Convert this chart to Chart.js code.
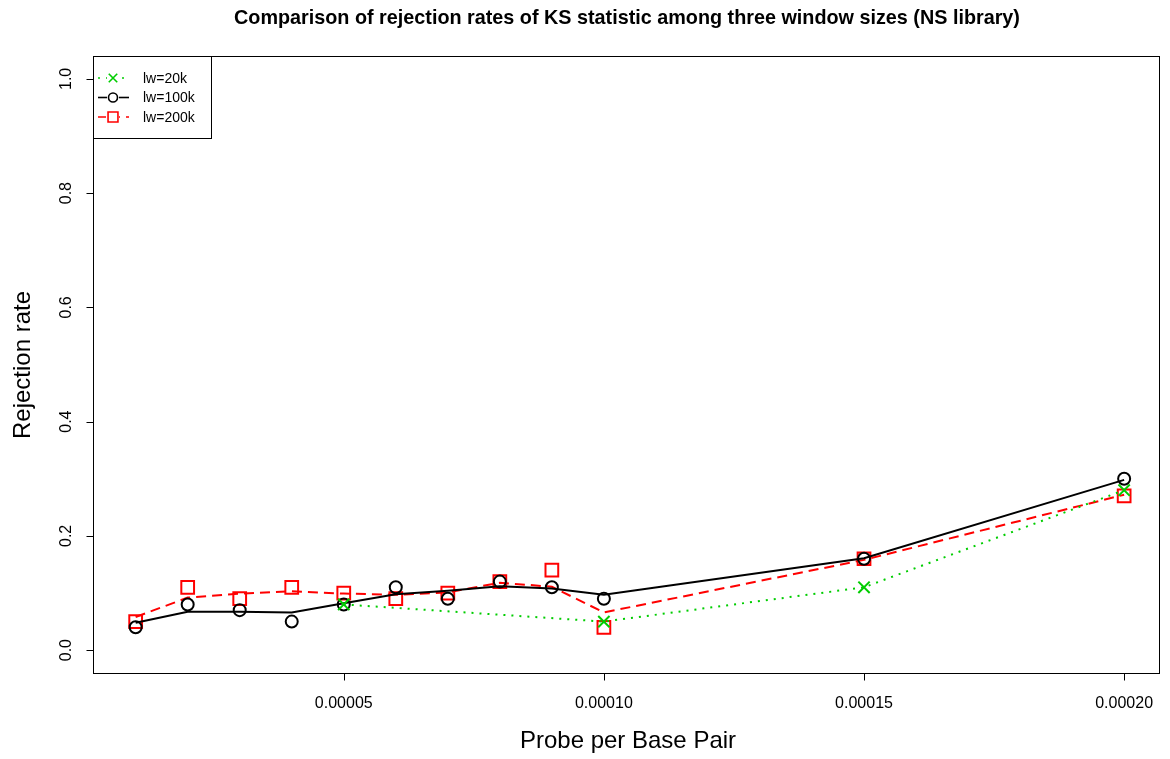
<!DOCTYPE html>
<html>
<head>
<meta charset="utf-8">
<script src="https://cdn.jsdelivr.net/npm/chart.js@4/dist/chart.umd.min.js"></script>
<style>
  body { margin: 0; background: #fff; overflow: hidden; }
  canvas { display: block; }
</style>
</head>
<body>
<canvas id="rejChart" width="1170" height="759"></canvas>
<script>
// probe density (per base pair) and rejection rates per window size
var probes = [0.00001, 0.00002, 0.00003, 0.00004, 0.00005, 0.00006, 0.00007, 0.00008, 0.00009, 0.0001, 0.00015, 0.0002];
var rate100k = [0.04, 0.08, 0.07, 0.05, 0.08, 0.11, 0.09, 0.12, 0.11, 0.09, 0.16, 0.30];
var smooth100k = [0.048, 0.067, 0.067, 0.066, 0.082, 0.098, 0.104, 0.112, 0.108, 0.097, 0.161, 0.298];
var rate200k = [0.05, 0.11, 0.09, 0.11, 0.10, 0.09, 0.10, 0.12, 0.14, 0.04, 0.16, 0.27];
var smooth200k = [0.058, 0.092, 0.099, 0.103, 0.099, 0.097, 0.101, 0.118, 0.111, 0.066, 0.158, 0.272];
var probes20k = [0.00005, 0.0001, 0.00015, 0.0002];
var rate20k = [0.08, 0.05, 0.11, 0.28];

var xTicks = [0.00005, 0.0001, 0.00015, 0.0002];
var yTicks = [0, 0.2, 0.4, 0.6, 0.8, 1.0];

var GREEN = "#00cd00";
var RED = "#ff0000";
var FONT = "'Liberation Sans', Arial, sans-serif";

function pts(xs, ys) {
    return xs.map(function (x, i) { return { x: x, y: ys[i] }; });
}

var legendItems = [
    { text: "lw=20k", color: GREEN, dash: [2, 6], style: "crossRot", r: 6 },
    { text: "lw=100k", color: "#000", dash: [], style: "circle", r: 4.5 },
    { text: "lw=200k", color: RED, dash: [8, 6], style: "rect", r: 7 }
];

// R-style frame, axes, labels and legend
var frame = {
    id: "frame",
    afterDraw: function (chart) {
        var ctx = chart.ctx, a = chart.chartArea;
        var xs = chart.scales.x, ys = chart.scales.y;
        ctx.save();
        ctx.strokeStyle = "#000";
        ctx.fillStyle = "#000";
        ctx.lineWidth = 1;
        ctx.strokeRect(Math.round(a.left) + 0.5, Math.round(a.top) + 0.5,
            Math.round(a.right - a.left), Math.round(a.bottom - a.top));

        // x axis
        var yb = Math.round(a.bottom) + 0.5;
        ctx.beginPath();
        ctx.moveTo(xs.getPixelForValue(xTicks[0]), yb);
        ctx.lineTo(xs.getPixelForValue(xTicks[xTicks.length - 1]), yb);
        xTicks.forEach(function (t) {
            var px = Math.round(xs.getPixelForValue(t)) + 0.5;
            ctx.moveTo(px, yb);
            ctx.lineTo(px, yb + 7);
        });
        ctx.stroke();
        ctx.font = "16px " + FONT;
        ctx.textAlign = "center";
        ctx.textBaseline = "middle";
        xTicks.forEach(function (t) {
            ctx.fillText(t.toFixed(5), xs.getPixelForValue(t), 704);
        });

        // y axis
        var xl = Math.round(a.left) + 0.5;
        ctx.beginPath();
        ctx.moveTo(xl, ys.getPixelForValue(yTicks[0]));
        ctx.lineTo(xl, ys.getPixelForValue(yTicks[yTicks.length - 1]));
        yTicks.forEach(function (t) {
            var py = Math.round(ys.getPixelForValue(t)) + 0.5;
            ctx.moveTo(xl, py);
            ctx.lineTo(xl - 7, py);
        });
        ctx.stroke();
        yTicks.forEach(function (t) {
            ctx.save();
            ctx.translate(67, ys.getPixelForValue(t));
            ctx.rotate(-Math.PI / 2);
            ctx.fillText(t.toFixed(1), 0, 0);
            ctx.restore();
        });

        // titles
        ctx.font = "bold 19.8px " + FONT;
        ctx.fillText("Comparison of rejection rates of KS statistic among three window sizes (NS library)", 627, 19);
        ctx.font = "24px " + FONT;
        ctx.fillText("Probe per Base Pair", 628, 741);
        ctx.save();
        ctx.translate(23, 365);
        ctx.rotate(-Math.PI / 2);
        ctx.fillText("Rejection rate", 0, 0);
        ctx.restore();

        // legend
        ctx.fillStyle = "#fff";
        ctx.fillRect(xl, Math.round(a.top) + 0.5, 118, 82);
        ctx.strokeRect(xl, Math.round(a.top) + 0.5, 118, 82);
        ctx.font = "14px " + FONT;
        ctx.textAlign = "left";
        legendItems.forEach(function (it, i) {
            var ly = 78 + i * 19.5;
            ctx.strokeStyle = it.color;
            ctx.lineWidth = 1.6;
            ctx.setLineDash(it.dash);
            ctx.beginPath();
            ctx.moveTo(98, ly);
            ctx.lineTo(129, ly);
            ctx.stroke();
            ctx.setLineDash([]);
            ctx.fillStyle = "#fff";
            ctx.fillRect(107, ly - 6, 12, 12);
            ctx.fillStyle = "rgba(0,0,0,0)";
            Chart.helpers.drawPoint(ctx, { pointStyle: it.style, radius: it.r, rotation: 0, borderWidth: 1.8 }, 113, ly);
            ctx.fillStyle = "#000";
            ctx.fillText(it.text, 143, ly + 1);
        });
        ctx.restore();
    }
};

new Chart("rejChart", {
    type: "scatter",
    data: {
        datasets: [{
            label: "lw=20k",
            data: pts(probes20k, rate20k),
            showLine: true,
            borderColor: GREEN,
            borderWidth: 2,
            borderDash: [2, 6],
            pointStyle: "crossRot",
            pointRadius: 8,
            pointBorderWidth: 2,
            pointBorderColor: GREEN,
            pointBackgroundColor: "rgba(0,0,0,0)"
        }, {
            label: "lw=100k",
            data: pts(probes, smooth100k),
            showLine: true,
            borderColor: "#000",
            borderWidth: 2,
            pointRadius: 0
        }, {
            label: "lw=100k points",
            data: pts(probes, rate100k),
            showLine: false,
            pointStyle: "circle",
            pointRadius: 6,
            pointBorderWidth: 2,
            pointBorderColor: "#000",
            pointBackgroundColor: "rgba(0,0,0,0)"
        }, {
            label: "lw=200k",
            data: pts(probes, smooth200k),
            showLine: true,
            borderColor: RED,
            borderWidth: 2,
            borderDash: [10, 6],
            pointRadius: 0
        }, {
            label: "lw=200k points",
            data: pts(probes, rate200k),
            showLine: false,
            pointStyle: "rect",
            pointRadius: 9,
            pointBorderWidth: 2,
            pointBorderColor: RED,
            pointBackgroundColor: "rgba(0,0,0,0)"
        }]
    },
    options: {
        responsive: false,
        animation: false,
        layout: { padding: { left: 93, right: 2, top: 56, bottom: 86 } },
        scales: {
            x: { type: "linear", display: false, min: 0.0000018, max: 0.0002067 },
            y: { type: "linear", display: false, min: -0.04, max: 1.04 }
        },
        plugins: {
            legend: { display: false },
            tooltip: { enabled: false }
        }
    },
    plugins: [frame]
});
</script>
</body>
</html>
